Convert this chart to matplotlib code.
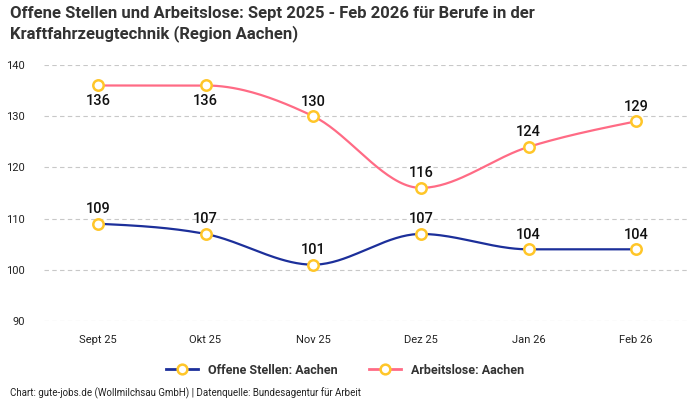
import numpy as np
import matplotlib
matplotlib.use('Agg')
import matplotlib.pyplot as plt
from matplotlib.lines import Line2D

plt.rcParams['font.family'] = ['Roboto', 'DejaVu Sans']

months = ['Sept 25', 'Okt 25', 'Nov 25', 'Dez 25', 'Jan 26', 'Feb 26']
offene_stellen = [109, 107, 101, 107, 104, 104]
arbeitslose = [136, 136, 130, 116, 124, 129]

blue = '#1c2f9a'
pink = '#ff6b85'
gold = '#ffc629'


def monotone_curve(y, n=40):
    # d3 curveMonotoneX style smoothing, unit spacing
    y = np.asarray(y, dtype=float)
    s = np.diff(y)
    t = np.zeros(len(y))
    for i in range(1, len(y) - 1):
        s0, s1 = s[i - 1], s[i]
        p = (s0 + s1) / 2
        t[i] = (np.sign(s0) + np.sign(s1)) * min(abs(s0), abs(s1), 0.5 * abs(p))
    t[0] = (3 * s[0] - t[1]) / 2
    t[-1] = (3 * s[-1] - t[-2]) / 2
    xs, ys = [], []
    for i in range(len(y) - 1):
        u = np.linspace(0, 1, n)
        h00 = 2 * u**3 - 3 * u**2 + 1
        h10 = u**3 - 2 * u**2 + u
        h01 = -2 * u**3 + 3 * u**2
        h11 = u**3 - u**2
        xs.append(i + u)
        ys.append(h00 * y[i] + h10 * t[i] + h01 * y[i + 1] + h11 * t[i + 1])
    return np.concatenate(xs), np.concatenate(ys)


fig = plt.figure(figsize=(7, 4), dpi=100)
ax = fig.add_axes([44 / 700, 1 - 321 / 400, 646 / 700, 256 / 400])

x = np.arange(len(months))
for vals, col, below in [(offene_stellen, blue, []), (arbeitslose, pink, [0, 1])]:
    cx, cy = monotone_curve(vals)
    ax.plot(cx, cy, color=col, lw=1.6, zorder=3)
    ax.plot(x, vals, 'o', ms=7.5, mfc='white', mec=gold, mew=1.8, zorder=4)
    for i, v in enumerate(vals):
        if i in below:
            ax.annotate(str(v), (i, v), xytext=(0, -6), textcoords='offset points',
                        ha='center', va='top', fontsize=10.5, fontweight='medium', color='#111')
        else:
            ax.annotate(str(v), (i, v), xytext=(0, 5.5), textcoords='offset points',
                        ha='center', va='bottom', fontsize=10.5, fontweight='medium', color='#111')

ax.set_xlim(-0.5, 5.5)
ax.set_ylim(90, 140)
ax.set_xticks(x)
ax.set_xticklabels(months)
ax.set_yticks(np.arange(90, 141, 10))
ax.tick_params(length=0, labelsize=8, colors='#222')
ax.tick_params(axis='x', pad=10)
ax.tick_params(axis='y', pad=14)
ax.grid(axis='y', color='#c8c8c8', ls=(0, (4, 3)), lw=0.8)
for sp in ax.spines.values():
    sp.set_visible(False)

fig.text(10 / 700, 1 - 6 / 400, 'Offene Stellen und Arbeitslose: Sept 2025 - Feb 2026 für Berufe in der\nKraftfahrzeugtechnik (Region Aachen)',
         ha='left', va='top', fontsize=12, fontweight='bold', color='#333', linespacing=1.3)

handles = [Line2D([], [], color=blue, lw=2, marker='o', ms=7, mfc='white', mec=gold, mew=1.8),
           Line2D([], [], color=pink, lw=2, marker='o', ms=7, mfc='white', mec=gold, mew=1.8)]
fig.legend(handles, ['Offene Stellen: Aachen', 'Arbeitslose: Aachen'], loc='center',
           bbox_to_anchor=(345 / 700, 1 - 370 / 400), ncol=2, frameon=False,
           prop={'size': 9, 'weight': 'bold'}, handlelength=2.6, columnspacing=2.5, labelcolor='#333')

fig.text(10 / 700, 1 - 393 / 400, 'Chart: gute-jobs.de (Wollmilchsau GmbH) | Datenquelle: Bundesagentur für Arbeit',
         ha='left', va='center', fontsize=7, color='#222')

fig.savefig('out.png', dpi=100, facecolor='white')
